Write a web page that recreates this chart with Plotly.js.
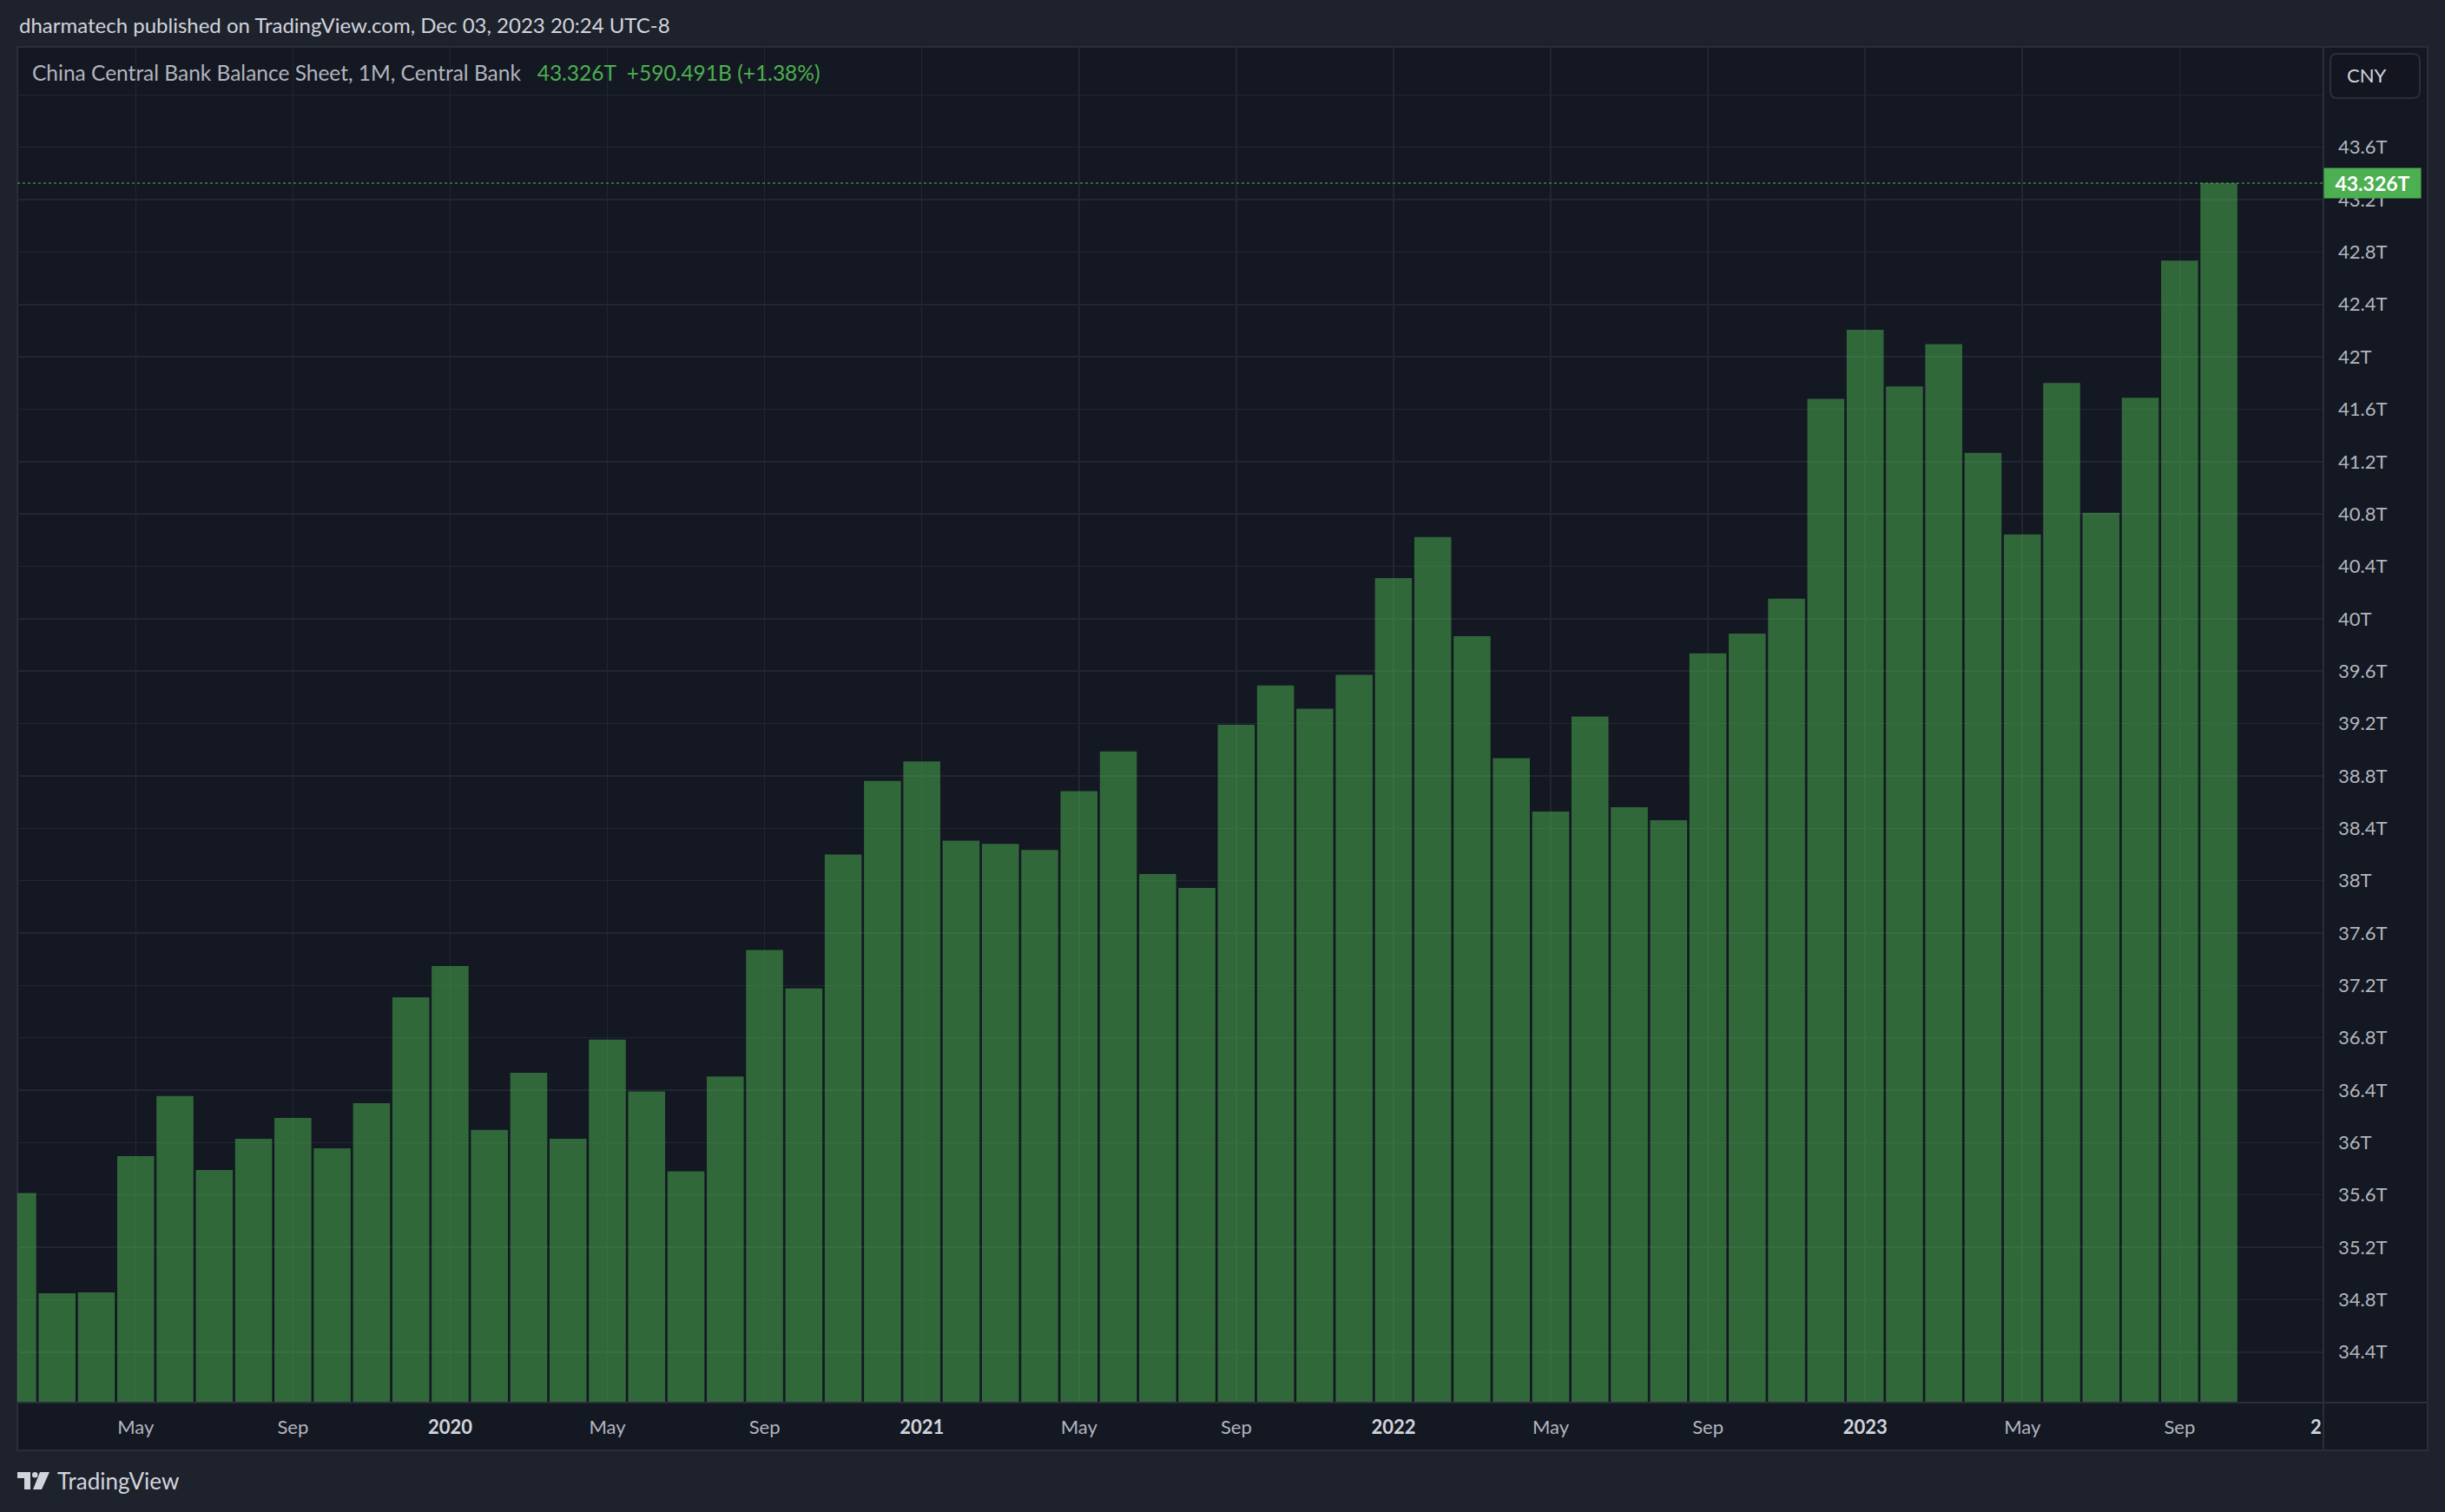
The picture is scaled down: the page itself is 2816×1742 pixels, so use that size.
<!DOCTYPE html>
<html>
<head>
<meta charset="utf-8">
<script src="https://cdn.plot.ly/plotly-3.0.1.min.js"></script>
<style>
html,body{margin:0;padding:0;background:#1e222d;}
#chart{width:2816px;height:1742px;}
</style>
</head>
<body>
<div id="chart"></div>
<script>
// ---------------- DATA ----------------
const months = [
  "2019-02","2019-03","2019-04","2019-05","2019-06","2019-07","2019-08","2019-09","2019-10","2019-11","2019-12",
  "2020-01","2020-02","2020-03","2020-04","2020-05","2020-06","2020-07","2020-08","2020-09","2020-10","2020-11","2020-12",
  "2021-01","2021-02","2021-03","2021-04","2021-05","2021-06","2021-07","2021-08","2021-09","2021-10","2021-11","2021-12",
  "2022-01","2022-02","2022-03","2022-04","2022-05","2022-06","2022-07","2022-08","2022-09","2022-10","2022-11","2022-12",
  "2023-01","2023-02","2023-03","2023-04","2023-05","2023-06","2023-07","2023-08","2023-09","2023-10"
];
// China central bank balance sheet, trillions CNY
const balanceT = [
  35.615, 34.849, 34.855, 35.896, 36.356, 35.790, 36.029, 36.188, 35.956, 36.300, 37.110,
  37.348, 36.097, 36.533, 36.029, 36.787, 36.390, 35.780, 36.504, 37.470, 37.177, 38.200, 38.762,
  38.910, 38.306, 38.280, 38.235, 38.683, 38.987, 38.050, 37.944, 39.190, 39.490, 39.313, 39.571,
  40.310, 40.623, 39.867, 38.935, 38.528, 39.253, 38.561, 38.462, 39.735, 39.887, 40.153, 41.680,
  42.206, 41.773, 42.097, 41.266, 40.644, 41.800, 40.810, 41.688, 42.735509, 43.326
];
const yTickVals = [34.4,34.8,35.2,35.6,36.0,36.4,36.8,37.2,37.6,38.0,38.4,38.8,39.2,39.6,40.0,40.4,40.8,41.2,41.6,42.0,42.4,42.8,43.2,43.6,44.0];
const yTickText = ["34.4T","34.8T","35.2T","35.6T","36T","36.4T","36.8T","37.2T","37.6T","38T","38.4T","38.8T","39.2T","39.6T","40T","40.4T","40.8T","41.2T","41.6T","42T","42.4T","42.8T","43.2T","43.6T",""];
const monthNames = ["Jan","Feb","Mar","Apr","May","Jun","Jul","Aug","Sep","Oct","Nov","Dec"];
const titleText = "dharmatech published on TradingView.com, Dec 03, 2023 20:24 UTC-8";
const seriesName = "China Central Bank Balance Sheet, 1M, Central Bank";

// ---------------- DERIVED ----------------
const xTickVals = [], xTickText = [];
months.forEach(m => {
  const [yy, mm] = m.split("-").map(Number);
  if (mm === 1) { xTickVals.push(m); xTickText.push('<b><span style="color:#d1d4dc">' + yy + '</span></b>'); }
  else if (mm === 5 || mm === 9) { xTickVals.push(m); xTickText.push(monthNames[mm - 1]); }
});
const last = balanceT[balanceT.length - 1];
const prev = balanceT[balanceT.length - 2];
const chg = (last - prev) * 1000;
const pct = (last - prev) / prev * 100;
const lastTxt = last.toFixed(3) + "T";
const chgTxt = (chg >= 0 ? "+" : "") + chg.toFixed(3) + "B (" + (pct >= 0 ? "+" : "") + pct.toFixed(2) + "%)";

// ---------------- LAYOUT GEOMETRY ----------------
const W = 2816, H = 1742;
const PL = 20, PR = 2676, PT = 54, PB = 1616;
const X = px => (px - PL) / (PR - PL);
const Y = py => (PB - py) / (PB - PT);
const FONT = "Lato, 'Liberation Sans', sans-serif";
const BORDER = "#2a2e39";
const GRID = "#222632";
const BG = "#141823";

function roundRect(x0, y0, x1, y1, r) {
  const p = (a, b) => X(a) + "," + Y(b);
  return "M" + p(x0 + r, y0) + " L" + p(x1 - r, y0) + " Q" + p(x1, y0) + " " + p(x1, y0 + r) +
         " L" + p(x1, y1 - r) + " Q" + p(x1, y1) + " " + p(x1 - r, y1) +
         " L" + p(x0 + r, y1) + " Q" + p(x0, y1) + " " + p(x0, y1 - r) +
         " L" + p(x0, y0 + r) + " Q" + p(x0, y0) + " " + p(x0 + r, y0) + " Z";
}
function poly(pts) {
  return "M" + pts.map(q => X(q[0]) + "," + Y(q[1])).join(" L") + " Z";
}

const trace = {
  type: "bar",
  x: months,
  y: balanceT,
  marker: { color: "rgba(76,175,80,0.53)", line: { width: 0 } },
  hoverinfo: "skip"
};

const shapes = [
  { type: "rect", xref: "paper", yref: "paper", x0: X(20), x1: X(2796), y0: Y(54), y1: Y(1671),
    fillcolor: BG, line: { color: BORDER, width: 2 }, layer: "below" },
  { type: "line", xref: "paper", yref: "paper", x0: X(2676), x1: X(2676), y0: Y(54), y1: Y(1671),
    line: { color: BORDER, width: 2 }, layer: "above" },
  { type: "line", xref: "paper", yref: "paper", x0: X(20), x1: X(2796), y0: Y(1616), y1: Y(1616),
    line: { color: BORDER, width: 2 }, layer: "above" },
  { type: "line", xref: "paper", yref: "y", x0: 0, x1: 1, y0: last, y1: last,
    line: { color: "rgba(76,175,80,0.55)", width: 2, dash: "dot" }, layer: "above" },
  { type: "path", xref: "paper", yref: "paper", path: roundRect(2684, 62, 2787, 113, 8),
    fillcolor: "#131620", line: { color: BORDER, width: 2 }, layer: "above" },
  { type: "path", xref: "paper", yref: "paper",
    path: poly([[20,1696],[35,1696],[35,1716],[28,1716],[28,1703],[20,1703]]),
    fillcolor: "#d1d4dc", line: { width: 0 }, layer: "above" },
  { type: "circle", xref: "paper", yref: "paper", x0: X(37), x1: X(43.5), y0: Y(1696), y1: Y(1702.5),
    fillcolor: "#d1d4dc", line: { width: 0 }, layer: "above" },
  { type: "path", xref: "paper", yref: "paper",
    path: poly([[46,1696],[57,1696],[48,1716],[38,1716]]),
    fillcolor: "#d1d4dc", line: { width: 0 }, layer: "above" }
];

const annotations = [
  { xref: "paper", yref: "paper", x: X(20), y: Y(29), xanchor: "left", yanchor: "middle", showarrow: false,
    text: titleText, font: { family: FONT, size: 24, color: "#d1d4dc" } },
  { xref: "paper", yref: "paper", x: X(35), y: Y(84), xanchor: "left", yanchor: "middle", showarrow: false,
    text: seriesName + '   <span style="color:#4caf50">' + lastTxt + '  ' + chgTxt + '</span>',
    font: { family: FONT, size: 24.5, color: "#b2b5be" } },
  { xref: "paper", yref: "paper", x: X(2701), y: Y(87), xanchor: "left", yanchor: "middle", showarrow: false,
    text: "CNY", font: { family: FONT, size: 22, color: "#d1d4dc" } },
  { xref: "paper", yref: "y", x: 1, y: last, xanchor: "left", yanchor: "middle", showarrow: false,
    text: "<b>" + lastTxt + "</b>", bgcolor: "#4caf50", width: 103, height: 26, borderpad: 4, align: "center",
    font: { family: FONT, size: 23, color: "#ffffff" } },
  { xref: "paper", yref: "paper", x: X(2676), y: Y(1643), xanchor: "right", yanchor: "middle", showarrow: false,
    text: "<b>2</b>", font: { family: FONT, size: 22, color: "#d1d4dc" } },
  { xref: "paper", yref: "paper", x: X(64), y: Y(1706), xanchor: "left", yanchor: "middle", showarrow: false,
    text: "TradingView", font: { family: FONT, size: 26, color: "#d1d4dc" } }
];

const layout = {
  width: W, height: H,
  margin: { l: PL, r: W - PR, t: PT, b: H - PB, pad: 0 },
  paper_bgcolor: "#1e222d",
  plot_bgcolor: BG,
  showlegend: false,
  bargap: 0.06,
  font: { family: FONT, size: 22, color: "#b2b5be" },
  xaxis: {
    type: "category",
    range: [-0.01, 58.66],
    tickmode: "array", tickvals: xTickVals, ticktext: xTickText,
    showgrid: true, gridcolor: GRID, gridwidth: 1.5,
    zeroline: false, showline: false, ticks: "",
    ticklabelstandoff: 13,
    tickfont: { family: FONT, size: 22, color: "#b2b5be" },
    fixedrange: true
  },
  yaxis: {
    side: "right",
    range: [34.014, 44.367],
    tickmode: "array", tickvals: yTickVals, ticktext: yTickText,
    showgrid: true, gridcolor: GRID, gridwidth: 1.5,
    zeroline: false, showline: false, ticks: "",
    ticklabelstandoff: 16,
    tickfont: { family: FONT, size: 22, color: "#b2b5be" },
    fixedrange: true
  },
  shapes: shapes,
  annotations: annotations
};

Plotly.newPlot("chart", [trace], layout, { displayModeBar: false, staticPlot: true });
</script>
</body>
</html>
